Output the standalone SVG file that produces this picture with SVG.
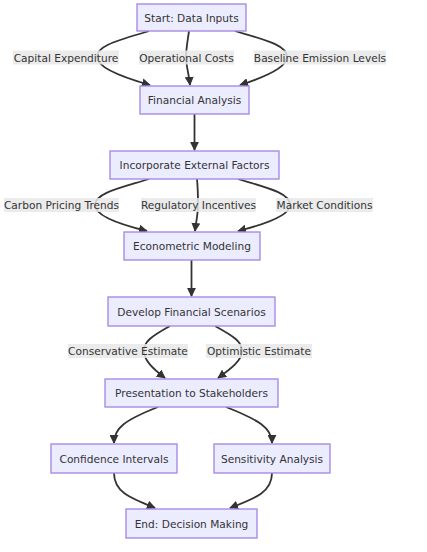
<svg xmlns="http://www.w3.org/2000/svg" width="427" height="552" viewBox="0 0 427 552">
<style>
.node rect{fill:#ECECFF;stroke:#A98BE6;stroke-width:1.4}
.node text,.elabel text{font-family:"DejaVu Sans",sans-serif;font-size:10.6px;fill:#333;text-anchor:middle;dominant-baseline:central}
.edge{fill:none;stroke:#333;stroke-width:1.8}
.elabel rect{fill:#e8e8e8;fill-opacity:0.85}
</style>
<defs>
<marker id="arrow" viewBox="0 0 10 10" refX="9" refY="5" markerWidth="9" markerHeight="9" markerUnits="userSpaceOnUse" orient="auto">
<path d="M0,0 L10,5 L0,10 z" fill="#333"/>
</marker>
</defs>
<rect width="427" height="552" fill="#fff"/>
<g id="connectors">
<path class="edge" marker-end="url(#arrow)" d="M149,31 C120,40 97,45 97,57 C97,68 125,78 150,85"/>
<path class="edge" marker-end="url(#arrow)" d="M189,31 C187,45 186,50 186,57 C186,65 189,75 190,85"/>
<path class="edge" marker-end="url(#arrow)" d="M235,31 C265,40 287,45 287,57 C287,68 262,78 240,85"/>
<path class="edge" marker-end="url(#arrow)" d="M194.5,114 L194.5,150"/>
<path class="edge" marker-end="url(#arrow)" d="M149,179 C120,188 95,193 95,205 C95,216 122,225 147,231"/>
<path class="edge" marker-end="url(#arrow)" d="M197,179 C198,190 198,198 198,205 C198,214 196,222 195,231"/>
<path class="edge" marker-end="url(#arrow)" d="M238,179 C268,188 290,193 290,205 C290,216 262,225 238,231"/>
<path class="edge" marker-end="url(#arrow)" d="M191.5,260 L191.5,296"/>
<path class="edge" marker-end="url(#arrow)" d="M170,326 C150,337 144,342 144,351 C144,360 152,368 165,378"/>
<path class="edge" marker-end="url(#arrow)" d="M215,326 C235,337 242,342 242,351 C242,360 232,368 218,378"/>
<path class="edge" marker-end="url(#arrow)" d="M158,407 C125,420 114,428 114,443"/>
<path class="edge" marker-end="url(#arrow)" d="M226,407 C259,420 272,428 272,443"/>
<path class="edge" marker-end="url(#arrow)" d="M114,473 C114,492 130,498 155,508"/>
<path class="edge" marker-end="url(#arrow)" d="M272,473 C272,492 256,498 230,508"/>
</g>
<g id="edge-labels">
<g class="elabel"><rect x="13" y="50.5" width="106" height="14"/><text x="66" y="57.5">Capital Expenditure</text></g>
<g class="elabel"><rect x="139" y="50.5" width="95" height="14"/><text x="186.5" y="57.5">Operational Costs</text></g>
<g class="elabel"><rect x="254" y="50.5" width="132" height="14"/><text x="320" y="57.5">Baseline Emission Levels</text></g>
<g class="elabel"><rect x="4" y="198" width="115" height="14"/><text x="61.5" y="205">Carbon Pricing Trends</text></g>
<g class="elabel"><rect x="141" y="198" width="115" height="14"/><text x="198.5" y="205">Regulatory Incentives</text></g>
<g class="elabel"><rect x="276" y="198" width="97" height="14"/><text x="324.5" y="205">Market Conditions</text></g>
<g class="elabel"><rect x="68" y="344" width="120" height="14"/><text x="128" y="351">Conservative Estimate</text></g>
<g class="elabel"><rect x="206" y="344" width="106" height="14"/><text x="259" y="351">Optimistic Estimate</text></g>
</g>
<g id="start" class="node"><rect x="137" y="4" width="109" height="27"/><text x="191.5" y="17.5">Start: Data Inputs</text></g>
<g id="financial" class="node"><rect x="140" y="86" width="109" height="28"/><text x="194.5" y="100">Financial Analysis</text></g>
<g id="external" class="node"><rect x="110" y="151" width="169" height="28"/><text x="194.5" y="165">Incorporate External Factors</text></g>
<g id="econometric" class="node"><rect x="124" y="232" width="136" height="28"/><text x="192" y="246">Econometric Modeling</text></g>
<g id="scenarios" class="node"><rect x="108" y="297" width="167" height="29"/><text x="191.5" y="311.5">Develop Financial Scenarios</text></g>
<g id="presentation" class="node"><rect x="105" y="379" width="173" height="28"/><text x="191.5" y="393">Presentation to Stakeholders</text></g>
<g id="confidence" class="node"><rect x="51" y="444" width="126" height="29"/><text x="114" y="458.5">Confidence Intervals</text></g>
<g id="sensitivity" class="node"><rect x="214" y="444" width="116" height="29"/><text x="272" y="458.5">Sensitivity Analysis</text></g>
<g id="end" class="node"><rect x="126" y="509" width="131" height="29"/><text x="191.5" y="523.5">End: Decision Making</text></g>
</svg>
